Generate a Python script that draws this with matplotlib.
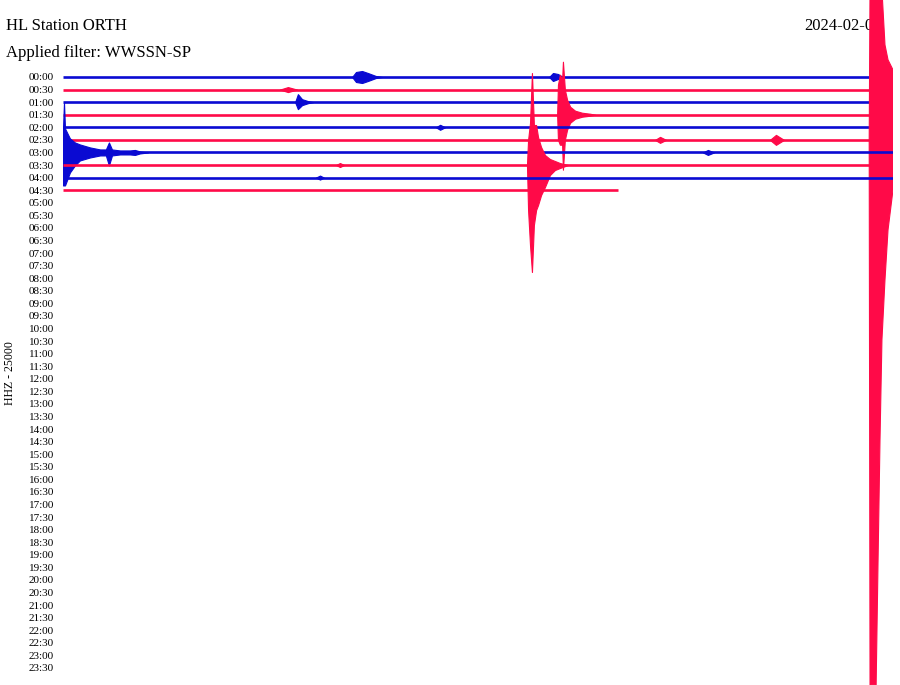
import numpy as np
import matplotlib
matplotlib.use("Agg")
import matplotlib.pyplot as plt

# helicorder: 48 rows of 30 minutes, only the first 10 have data
row_labels = ["%02d:%02d" % (h, m) for h in range(24) for m in (0, 30)]
row_colors = ["#0a0ad2", "#ff0a48"]
row_ends = [30, 30, 30, 30, 30, 30, 30, 30, 30, 20.06]   # minutes of data per row

# amplitude of events in screen px (1 row = 12.57 px)
# each event: row, minutes, upper amplitude, lower amplitude
ev_row = [0, 0, 1, 2, 3, 4, 5, 5, 6, 6, 7, 7, 8, 5]
ev_min = [
    [10.45, 10.59, 10.81, 11.02, 11.31, 11.53],
    [17.57, 17.71, 17.89, 18.07],
    [7.84, 8.13, 8.46],
    [8.39, 8.49, 8.64, 8.86, 9.04],
    [17.86, 17.89, 17.96, 18.04, 18.07, 18.14, 18.22, 18.33, 18.51, 18.76, 19.05, 19.23],
    [13.48, 13.63, 13.81],
    [21.40, 21.58, 21.80],
    [25.55, 25.77, 26.06],
    [0.0, 0.036, 0.072, 0.25, 0.43, 0.61, 0.98, 1.34, 1.55, 1.66, 1.77, 2.06, 2.42, 2.60, 2.78, 3.07],
    [23.13, 23.31, 23.53],
    [16.77, 16.81, 16.88, 16.95, 17.02, 17.10, 17.17, 17.28, 17.42, 17.60, 17.78, 17.96, 18.25],
    [9.87, 10.01, 10.16],
    [9.14, 9.29, 9.43],
    [29.14, 29.17, 29.39, 29.46, 29.53, 29.60, 29.71, 29.82, 30.0],
]
ev_up = [
    [0, 5, 6, 4, 1, 0],
    [0, 4, 3, 0],
    [0, 2.5, 0],
    [0, 8, 3, 1, 0],
    [0, 30, 40, 35, 53, 25, 15, 8, 4, 2, 1, 0],
    [0, 2.5, 0],
    [0, 3, 0],
    [0, 5, 0],
    [24, 50, 24, 14, 10, 8, 5, 3, 3, 10, 3, 2, 2, 2.5, 1, 0],
    [0, 2.5, 0],
    [0, 25, 42, 92, 40, 40, 28, 18, 10, 6, 4, 2, 0],
    [0, 2, 0],
    [0, 2, 0],
    [0, 150, 150, 150, 150, 150, 95, 80, 70],
]
ev_down = [
    [0, 5, 6, 4, 1, 0],
    [0, 4, 2, 0],
    [0, 2.5, 0],
    [0, 7, 3, 1, 0],
    [0, 25, 30, 30, 55, 25, 15, 8, 4, 2, 1, 0],
    [0, 2.5, 0],
    [0, 3, 0],
    [0, 5, 0],
    [33, 33, 33, 20, 13, 8, 5, 3, 3, 13, 3, 2, 2, 2.5, 1, 0],
    [0, 2.5, 0],
    [0, 45, 80, 107, 60, 45, 40, 30, 22, 10, 5, 3, 0],
    [0, 2, 0],
    [0, 2, 0],
    [0, 545, 545, 420, 300, 200, 140, 90, 50],
]
PX_PER_ROW = 12.574

fig = plt.figure(figsize=(9, 6.85), dpi=100)
fig.patch.set_facecolor("white")
ax = fig.add_axes([63 / 900, 0, 830 / 900, 1])
ax.set_xlim(0, 30)
ax.set_ylim(608 / PX_PER_ROW, -77 / PX_PER_ROW)

serif = "Liberation Serif"

for r in range(len(row_ends)):
    col = row_colors[r % 2]
    ax.plot([0, row_ends[r]], [r, r], color=col, lw=1.9, solid_capstyle="butt", zorder=2)
    for k in range(len(ev_row)):
        if ev_row[k] != r:
            continue
        x = np.array(ev_min[k])
        up = np.array(ev_up[k]) / PX_PER_ROW
        dn = np.array(ev_down[k]) / PX_PER_ROW
        ax.fill_between(x, r - up, r + dn, color=col, lw=0.8, edgecolor=col, zorder=2)

ax.set_yticks(range(48))
ax.set_yticklabels(row_labels, fontsize=8, family=serif)
ax.tick_params(axis="y", length=0, pad=6.5)
ax.set_xticks([])
for s in ax.spines.values():
    s.set_visible(False)

fig.text(6 / 900, 1 - 26 / 685, "HL Station ORTH", fontsize=12, family=serif, va="center", ha="left")
fig.text(6 / 900, 1 - 53 / 685, "Applied filter: WWSSN-SP", fontsize=12, family=serif, va="center", ha="left")
ax.text(804 / 900, 1 - 26 / 685, "2024-02-06", fontsize=12, family=serif, va="center", ha="left",
        transform=fig.transFigure, zorder=1)
fig.text(10 / 900, 1 - 373 / 685, "HHZ - 25000", fontsize=8.5, family=serif, rotation=90,
         va="center", ha="center")

fig.savefig("out.png", dpi=100, facecolor="white")
